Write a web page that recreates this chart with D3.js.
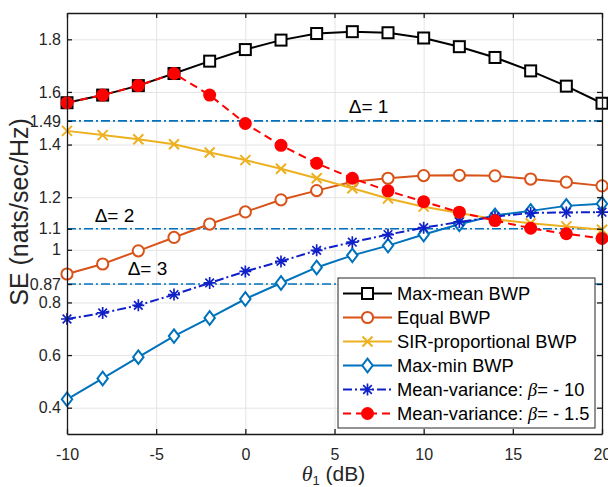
<!DOCTYPE html>
<html><head><meta charset="utf-8">
<script src="https://cdn.jsdelivr.net/npm/d3@7"></script>
<style>body{margin:0;background:#fff}svg{display:block}</style>
</head><body><svg id="c" width="608" height="487"></svg>
<script>
const theta = [-10,-8,-6,-4,-2,0,2,4,6,8,10,12,14,16,18,20];
const maxMean = [1.559,1.588,1.624,1.670,1.717,1.761,1.797,1.822,1.829,1.825,1.805,1.772,1.731,1.680,1.622,1.557];
const equalBWP = [0.908,0.946,0.996,1.047,1.098,1.144,1.190,1.225,1.259,1.272,1.282,1.283,1.281,1.269,1.257,1.243];
const sirProp = [1.452,1.436,1.420,1.401,1.370,1.341,1.308,1.272,1.234,1.195,1.164,1.140,1.116,1.101,1.089,1.076];
const maxMin = [0.432,0.511,0.592,0.672,0.741,0.813,0.874,0.933,0.979,1.016,1.058,1.097,1.131,1.148,1.167,1.175];
const mvBeta10 = [0.737,0.760,0.789,0.830,0.874,0.918,0.956,0.998,1.029,1.058,1.084,1.106,1.126,1.140,1.142,1.143];
const mvBeta15 = [1.559,1.588,1.624,1.670,1.588,1.480,1.397,1.329,1.272,1.224,1.183,1.143,1.111,1.082,1.061,1.043];
const deltaLevels = [1.49, 1.08, 0.87];
const deltaLabels = ["Δ= 1", "Δ= 2", "Δ= 3"];
const deltaLabelX = [5.8, -8.45, -6.6];
const deltaLabelY = [1.52, 1.105, 0.905];
const xTicks = [-10,-5,0,5,10,15,20];
const yTicks = [0.4,0.6,0.8,0.87,1,1.08,1.2,1.4,1.49,1.6,1.8];
const yTickLabels = ["0.4","0.6","0.8","0.87","1","1.1","1.2","1.4","1.49","1.6","1.8"];
const seriesNames = ["Max-mean BWP","Equal BWP","SIR-proportional BWP","Max-min BWP","Mean-variance: ","Mean-variance: "];

const series = [
  {name: seriesNames[0], values: maxMean, color: "#000000", marker: "square", dash: null},
  {name: seriesNames[1], values: equalBWP, color: "#D95319", marker: "circle", dash: null},
  {name: seriesNames[2], values: sirProp, color: "#EDB120", marker: "x", dash: null},
  {name: seriesNames[3], values: maxMin, color: "#0072BD", marker: "diamond", dash: null},
  {name: seriesNames[4], values: mvBeta10, color: "#1020C8", marker: "star", dash: "9,3,2,3", beta: "= - 10"},
  {name: seriesNames[5], values: mvBeta15, color: "#FF0000", marker: "dot", dash: "8,5", beta: "= - 1.5"}
];

const L = 67, R = 602, T = 13, B = 434;
const x = d3.scaleLinear().domain([-10,20]).range([L,R]);
const y = d3.scaleLinear().domain([0.3,1.9]).range([B,T]);
const svg = d3.select("#c");
const font = "'Liberation Sans', Arial, Helvetica, sans-serif";
const serif = "'Liberation Serif', 'DejaVu Serif', serif";
const LW = 2;

// grid
svg.append("g").attr("transform",`translate(0,${B})`)
  .call(d3.axisBottom(x).tickValues(xTicks).tickSize(-(B-T)).tickFormat(""))
  .call(g=>{g.select(".domain").remove(); g.selectAll("line").attr("stroke","#e4e4e4").attr("stroke-width",1);});
svg.append("g").attr("transform",`translate(${L},0)`)
  .call(d3.axisLeft(y).tickValues(yTicks).tickSize(-(R-L)).tickFormat(""))
  .call(g=>{g.select(".domain").remove(); g.selectAll("line").attr("stroke","#e4e4e4").attr("stroke-width",1);});

// delta lines
deltaLevels.forEach((v,i)=>{
  svg.append("line").attr("x1",L).attr("x2",R).attr("y1",y(v)).attr("y2",y(v))
    .attr("stroke","#0072BD").attr("stroke-width",1.6).attr("stroke-dasharray","9,3,2,3");
});

// series
function drawMarker(g, type, cx, cy, color){
  if(type==="square"){
    g.append("rect").attr("x",cx-5.5).attr("y",cy-5.5).attr("width",11).attr("height",11)
      .attr("fill","#fff").attr("stroke",color).attr("stroke-width",LW);
  } else if(type==="circle"){
    g.append("circle").attr("cx",cx).attr("cy",cy).attr("r",5.6)
      .attr("fill","#fff").attr("stroke",color).attr("stroke-width",LW);
  } else if(type==="x"){
    g.append("path").attr("d",`M${cx-5},${cy-5}L${cx+5},${cy+5}M${cx-5},${cy+5}L${cx+5},${cy-5}`)
      .attr("stroke",color).attr("stroke-width",LW).attr("fill","none");
  } else if(type==="diamond"){
    g.append("path").attr("d",`M${cx},${cy-6.8}L${cx+5.2},${cy}L${cx},${cy+6.8}L${cx-5.2},${cy}Z`)
      .attr("fill","#fff").attr("stroke",color).attr("stroke-width",LW);
  } else if(type==="star"){
    const a=6, d=4.3;
    g.append("path").attr("d",`M${cx-a},${cy}L${cx+a},${cy}M${cx},${cy-a}L${cx},${cy+a}M${cx-d},${cy-d}L${cx+d},${cy+d}M${cx-d},${cy+d}L${cx+d},${cy-d}`)
      .attr("stroke",color).attr("stroke-width",1.7).attr("fill","none");
  } else if(type==="dot"){
    g.append("circle").attr("cx",cx).attr("cy",cy).attr("r",6.5).attr("fill",color);
  }
}
const line = d3.line().x((d,i)=>x(theta[i])).y(d=>y(d));
series.forEach(s=>{
  const g = svg.append("g");
  g.append("path").datum(s.values).attr("d",line).attr("fill","none")
    .attr("stroke",s.color).attr("stroke-width",LW)
    .attr("stroke-dasharray",s.dash);
  s.values.forEach((v,i)=>drawMarker(g,s.marker,x(theta[i]),y(v),s.color));
});

// delta labels
deltaLevels.forEach((v,i)=>{
  svg.append("text").attr("x",x(deltaLabelX[i])).attr("y",y(deltaLabelY[i]))
    .attr("font-family",font).attr("font-size",19).attr("fill","#000").text(deltaLabels[i]);
});

// axes
const axColor = "#1a1a1a";
function styleAxis(g){
  g.select(".domain").attr("stroke",axColor).attr("stroke-width",1.3);
  g.selectAll(".tick line").attr("stroke",axColor).attr("stroke-width",1.3);
  g.selectAll("text").attr("font-family",font).attr("font-size",16).attr("fill","#262626");
}
svg.append("g").attr("transform",`translate(0,${B})`)
  .call(d3.axisBottom(x).tickValues(xTicks).tickSize(-5).tickSizeOuter(0).tickPadding(15).tickFormat(d=>String(d)))
  .call(styleAxis);
svg.append("g").attr("transform",`translate(0,${T})`)
  .call(d3.axisTop(x).tickValues(xTicks).tickSize(-5).tickSizeOuter(0).tickFormat(""))
  .call(styleAxis);
svg.append("g").attr("transform",`translate(${L},0)`)
  .call(d3.axisLeft(y).tickValues(yTicks).tickSize(-5).tickSizeOuter(0).tickPadding(6).tickFormat((d,i)=>yTickLabels[i]))
  .call(styleAxis);
svg.append("g").attr("transform",`translate(${R},0)`)
  .call(d3.axisRight(y).tickValues(yTicks).tickSize(-5).tickSizeOuter(0).tickFormat(""))
  .call(styleAxis);

// axis labels
const xl = svg.append("text").attr("x",(L+R)/2 - 1).attr("y",481).attr("text-anchor","middle")
  .attr("font-family",font).attr("font-size",21).attr("fill","#262626");
xl.append("tspan").attr("font-family",serif).attr("font-style","italic").attr("font-size",22).text("θ");
xl.append("tspan").attr("font-size",13).attr("dy",4).text("1");
xl.append("tspan").attr("dy",-4).text(" (dB)");

svg.append("text").attr("transform",`translate(28,${212}) rotate(-90)`).attr("text-anchor","middle")
  .attr("font-family",font).attr("font-size",25).attr("fill","#262626").text("SE (nats/sec/Hz)");

// legend
const lg = svg.append("g");
lg.append("rect").attr("x",338).attr("y",278).attr("width",257).attr("height",150)
  .attr("fill","#fff").attr("stroke","#262626").attr("stroke-width",1);
series.forEach((s,i)=>{
  const cy = 293.5 + i*24;
  lg.append("line").attr("x1",343).attr("x2",392).attr("y1",cy).attr("y2",cy)
    .attr("stroke",s.color).attr("stroke-width",LW).attr("stroke-dasharray",s.dash);
  drawMarker(lg,s.marker,367.5,cy,s.color);
  const t = lg.append("text").attr("x",397).attr("y",cy+6.5).attr("font-family",font)
    .attr("font-size",18.3).attr("fill","#000");
  t.append("tspan").text(s.name);
  if(s.beta){
    t.append("tspan").attr("font-family",serif).attr("font-style","italic").text("β");
    t.append("tspan").text(s.beta);
  }
});
</script></body></html>
